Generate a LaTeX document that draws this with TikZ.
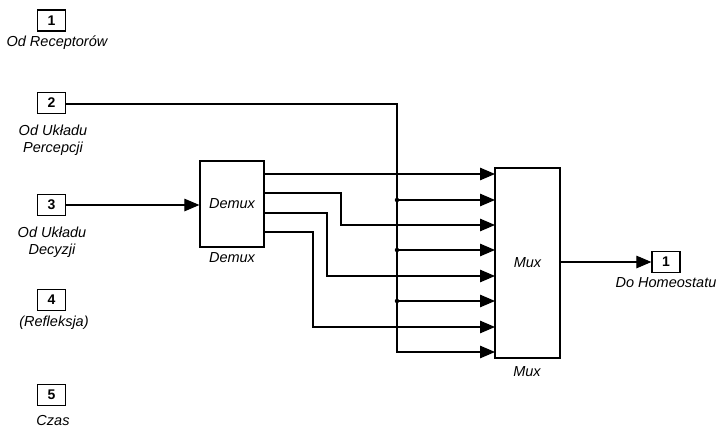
\documentclass[tikz,border=0pt]{standalone}
\usepackage{fontspec}
\setmainfont{Liberation Sans}
\usetikzlibrary{arrows.meta}
\begin{document}
\begin{tikzpicture}[x=1pt,y=-1pt,
  port/.style={draw,line width=1.2pt,minimum width=28pt,minimum height=21pt,inner sep=0pt,font=\fontsize{14}{16}\selectfont\bfseries},
  lbl/.style={font=\fontsize{14.5}{17}\selectfont\itshape,align=center,inner sep=0pt},
  blk/.style={draw,line width=1.2pt,inner sep=0pt,font=\fontsize{14.5}{17}\selectfont\itshape},
  wire/.style={line width=1.1pt},
  arr/.style={wire,-{Triangle[length=15pt,width=12.5pt]}},
  jdot/.style={circle,fill,inner sep=0pt,minimum size=4.5pt}
]
\useasboundingbox (0,0) rectangle (720,431);
\fill[white] (0,0) rectangle (720,431);

% input ports
\node[port] (in1) at (51.5,20.5) {1};
\node[lbl]  (l1) at (57,43) {Od Receptorów};
\node[port] (in2) at (51.5,103) {2};
\node[lbl]  (l2) at (53,140) {Od Układu\\Percepcji};
\node[port] (in3) at (51.5,205) {3};
\node[lbl]  (l3) at (52,242) {Od Układu\\Decyzji};
\node[port] (in4) at (51.5,300) {4};
\node[lbl]  (l4) at (54,323) {(Refleksja)};
\node[port] (in5) at (51.5,395) {5};
\node[lbl]  (l5) at (53,421) {Czas};

% demux
\node[blk,minimum width=64pt,minimum height=86pt] (demux) at (232,204) {Demux};
\node[lbl] (ldemux) at (232,258) {Demux};

% mux
\node[blk,minimum width=65pt,minimum height=190pt] (mux) at (527.5,263) {Mux};
\node[lbl] (lmux) at (527,372) {Mux};

% output port
\node[port] (out1) at (666,262) {1};
\node[lbl] (lout) at (666,283) {Do Homeostatu};

% coordinates
\coordinate (d1) at (264,174);
\coordinate (d2) at (264,193);
\coordinate (d3) at (264,213);
\coordinate (d4) at (264,232);
\coordinate (m1) at (495,174);
\coordinate (m2) at (495,200);
\coordinate (m3) at (495,225);
\coordinate (m4) at (495,250);
\coordinate (m5) at (495,276);
\coordinate (m6) at (495,301);
\coordinate (m7) at (495,327);
\coordinate (m8) at (495,352);
\coordinate (bt) at (397,104);
\node[jdot] (j2) at (397,200) {};
\node[jdot] (j4) at (397,250) {};
\node[jdot] (j6) at (397,301) {};

% wires
\draw[arr] (in3.east |- 0,205) -- (demux.west |- 0,205);
\draw[arr] (d1) -- (m1);
\draw[arr] (d2) -- (341,193) |- (m3);
\draw[arr] (d3) -- (327,213) |- (m5);
\draw[arr] (d4) -- (313,232) |- (m7);
\draw[arr] (in2.east |- bt) -- (bt) |- (m8);
\draw[arr] (j2.center) -- (m2);
\draw[arr] (j4.center) -- (m4);
\draw[arr] (j6.center) -- (m6);
\draw[arr] (mux.east |- out1) -- (out1.west);
\end{tikzpicture}
\end{document}
